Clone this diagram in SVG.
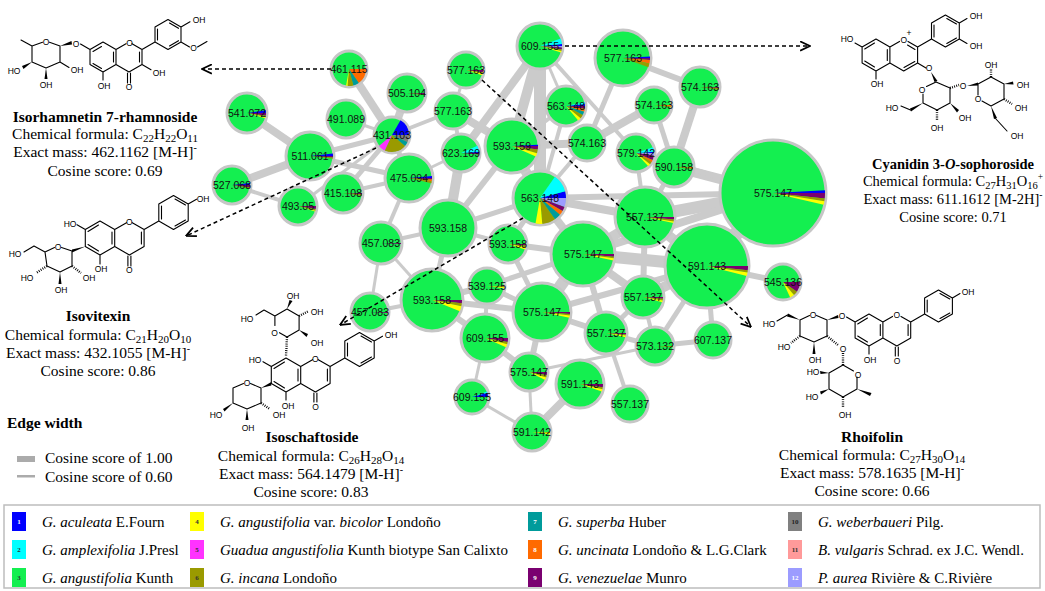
<svg xmlns="http://www.w3.org/2000/svg" xmlns:xlink="http://www.w3.org/1999/xlink" width="1045" height="591" viewBox="0 0 1045 591">
<style>
.e line{stroke:#cbcbcb;stroke-linecap:butt}
.nc{fill:#14ef50;stroke:#c6c6c6;stroke-width:3}
.nl{font-family:"Liberation Sans",Arial,sans-serif;font-size:10.5px;fill:#111;text-anchor:middle}
.c1{fill:#0000ff}.c2{fill:#00ffff}.c3{fill:#14ef50}.c4{fill:#ffff00}.c5{fill:#ff33ff}.c6{fill:#9a9a00}
.c7{fill:#009b9b}.c8{fill:#ff6a00}.c9{fill:#7a0070}.c10{fill:#808080}.c11{fill:#ff9a9a}.c12{fill:#9c9cff}
.bd{stroke:#000;stroke-width:1.1;fill:none;stroke-linecap:round;stroke-linejoin:round}
.hs{stroke:#000;stroke-width:2.4;stroke-dasharray:0.9 1.3;fill:none}
.wd{fill:#000}
.al{font-family:"Liberation Sans",Arial,sans-serif;font-size:8.5px;fill:#000;text-anchor:middle}
.t{font-family:"Liberation Serif","Times New Roman",serif;font-size:15.5px;fill:#000;text-anchor:middle}
.ts{text-anchor:start}
.tsm{font-size:14.5px}
.tb{font-weight:bold}
.lg{font-family:"Liberation Serif","Times New Roman",serif;font-size:15px;fill:#000}
.sn{font-family:"Liberation Serif","Times New Roman",serif;font-size:7px;text-anchor:middle;font-weight:bold}
.da{stroke:#000;stroke-width:1.5;stroke-dasharray:4 3;fill:none}
</style>
<defs>
<path id="w3" d="M0 0H1A1 1 0 0 1 .9986 .0523Z"/>
<path id="w4" d="M0 0H1A1 1 0 0 1 .9976 .0698Z"/>
<path id="w5" d="M0 0H1A1 1 0 0 1 .9962 .0872Z"/>
<path id="w6" d="M0 0H1A1 1 0 0 1 .9945 .1045Z"/>
<path id="w8" d="M0 0H1A1 1 0 0 1 .9903 .1392Z"/>
<path id="w10" d="M0 0H1A1 1 0 0 1 .9848 .1736Z"/>
<path id="w12" d="M0 0H1A1 1 0 0 1 .9781 .2079Z"/>
<path id="w15" d="M0 0H1A1 1 0 0 1 .9659 .2588Z"/>
<path id="w20" d="M0 0H1A1 1 0 0 1 .9397 .3420Z"/>
<path id="w25" d="M0 0H1A1 1 0 0 1 .9063 .4226Z"/>
<path id="w30" d="M0 0H1A1 1 0 0 1 .8660 .5Z"/>
<path id="w35" d="M0 0H1A1 1 0 0 1 .8192 .5736Z"/>
<path id="w40" d="M0 0H1A1 1 0 0 1 .7660 .6428Z"/>
<path id="w55" d="M0 0H1A1 1 0 0 1 .5736 .8192Z"/>
<path id="w60" d="M0 0H1A1 1 0 0 1 .5 .8660Z"/>
<path id="w75" d="M0 0H1A1 1 0 0 1 .2588 .9659Z"/>
<marker id="ah" viewBox="0 0 10 10" refX="9.5" refY="5" markerWidth="11" markerHeight="11" markerUnits="userSpaceOnUse" orient="auto">
<path d="M0.5 0.8L9.5 5L0.5 9.2" fill="none" stroke="#000" stroke-width="1.6"/>
</marker>
</defs>
<rect width="1045" height="591" fill="#fff"/>

<g id="edges" class="e">
<line x1="247" y1="113" x2="310" y2="156" stroke-width="8"/>
<line x1="232" y1="185" x2="310" y2="156" stroke-width="8"/>
<line x1="232" y1="185" x2="298" y2="206" stroke-width="4"/>
<line x1="310" y1="156" x2="392" y2="135" stroke-width="5"/>
<line x1="310" y1="156" x2="409" y2="178" stroke-width="5"/>
<line x1="346" y1="119" x2="392" y2="135" stroke-width="3"/>
<line x1="349" y1="69" x2="392" y2="135" stroke-width="8"/>
<line x1="407" y1="93" x2="392" y2="135" stroke-width="8"/>
<line x1="392" y1="135" x2="343" y2="193" stroke-width="5"/>
<line x1="392" y1="135" x2="409" y2="178" stroke-width="5"/>
<line x1="343" y1="193" x2="409" y2="178" stroke-width="4"/>
<line x1="298" y1="206" x2="392" y2="135" stroke-width="3"/>
<line x1="409" y1="178" x2="381" y2="243" stroke-width="4"/>
<line x1="392" y1="135" x2="453" y2="111" stroke-width="4"/>
<line x1="409" y1="178" x2="461" y2="153" stroke-width="3"/>
<line x1="466" y1="70" x2="453" y2="111" stroke-width="3"/>
<line x1="453" y1="111" x2="512" y2="146" stroke-width="8"/>
<line x1="453" y1="111" x2="461" y2="153" stroke-width="4"/>
<line x1="540" y1="46" x2="512" y2="146" stroke-width="10"/>
<line x1="540" y1="46" x2="540" y2="198" stroke-width="12"/>
<line x1="540" y1="46" x2="566" y2="106" stroke-width="3"/>
<line x1="540" y1="46" x2="636" y2="153" stroke-width="4"/>
<line x1="540" y1="46" x2="461" y2="153" stroke-width="8"/>
<line x1="623" y1="58" x2="700" y2="87" stroke-width="6"/>
<line x1="623" y1="58" x2="587" y2="143" stroke-width="5"/>
<line x1="654" y1="105" x2="587" y2="143" stroke-width="8"/>
<line x1="654" y1="105" x2="674" y2="167" stroke-width="5"/>
<line x1="700" y1="87" x2="674" y2="167" stroke-width="8"/>
<line x1="674" y1="167" x2="773" y2="193" stroke-width="10"/>
<line x1="674" y1="167" x2="645" y2="217" stroke-width="5"/>
<line x1="512" y1="146" x2="587" y2="143" stroke-width="8"/>
<line x1="587" y1="143" x2="540" y2="198" stroke-width="4"/>
<line x1="566" y1="106" x2="512" y2="146" stroke-width="4"/>
<line x1="566" y1="106" x2="540" y2="198" stroke-width="4"/>
<line x1="512" y1="146" x2="540" y2="198" stroke-width="10"/>
<line x1="512" y1="146" x2="448" y2="228" stroke-width="6"/>
<line x1="461" y1="153" x2="448" y2="228" stroke-width="10"/>
<line x1="540" y1="198" x2="645" y2="217" stroke-width="8"/>
<line x1="540" y1="198" x2="773" y2="193" stroke-width="6"/>
<line x1="540" y1="198" x2="583" y2="254" stroke-width="8"/>
<line x1="540" y1="198" x2="508" y2="244" stroke-width="5"/>
<line x1="540" y1="198" x2="448" y2="228" stroke-width="5"/>
<line x1="636" y1="153" x2="645" y2="217" stroke-width="4"/>
<line x1="636" y1="153" x2="773" y2="193" stroke-width="5"/>
<line x1="645" y1="217" x2="773" y2="193" stroke-width="12"/>
<line x1="645" y1="217" x2="707" y2="266" stroke-width="10"/>
<line x1="645" y1="217" x2="583" y2="254" stroke-width="10"/>
<line x1="773" y1="193" x2="707" y2="266" stroke-width="14"/>
<line x1="773" y1="193" x2="583" y2="254" stroke-width="8"/>
<line x1="707" y1="266" x2="783" y2="282" stroke-width="6"/>
<line x1="707" y1="266" x2="583" y2="254" stroke-width="12"/>
<line x1="707" y1="266" x2="643" y2="297" stroke-width="10"/>
<line x1="707" y1="266" x2="713" y2="340" stroke-width="5"/>
<line x1="707" y1="266" x2="655" y2="346" stroke-width="5"/>
<line x1="707" y1="266" x2="542" y2="312" stroke-width="6"/>
<line x1="583" y1="254" x2="542" y2="312" stroke-width="12"/>
<line x1="583" y1="254" x2="508" y2="244" stroke-width="6"/>
<line x1="583" y1="254" x2="643" y2="297" stroke-width="8"/>
<line x1="583" y1="254" x2="487" y2="286" stroke-width="5"/>
<line x1="448" y1="228" x2="381" y2="243" stroke-width="4"/>
<line x1="448" y1="228" x2="508" y2="244" stroke-width="4"/>
<line x1="448" y1="228" x2="432" y2="300" stroke-width="5"/>
<line x1="381" y1="243" x2="370" y2="312" stroke-width="3"/>
<line x1="370" y1="312" x2="432" y2="300" stroke-width="4"/>
<line x1="381" y1="243" x2="432" y2="300" stroke-width="3"/>
<line x1="432" y1="300" x2="487" y2="286" stroke-width="6"/>
<line x1="432" y1="300" x2="542" y2="312" stroke-width="6"/>
<line x1="432" y1="300" x2="485" y2="338" stroke-width="6"/>
<line x1="487" y1="286" x2="485" y2="338" stroke-width="4"/>
<line x1="487" y1="286" x2="542" y2="312" stroke-width="5"/>
<line x1="485" y1="338" x2="529" y2="372" stroke-width="6"/>
<line x1="485" y1="338" x2="472" y2="397" stroke-width="3"/>
<line x1="472" y1="397" x2="532" y2="432" stroke-width="3"/>
<line x1="529" y1="372" x2="532" y2="432" stroke-width="3"/>
<line x1="580" y1="384" x2="532" y2="432" stroke-width="8"/>
<line x1="529" y1="372" x2="655" y2="346" stroke-width="3"/>
<line x1="542" y1="312" x2="529" y2="372" stroke-width="6"/>
<line x1="542" y1="312" x2="606" y2="333" stroke-width="6"/>
<line x1="606" y1="333" x2="655" y2="346" stroke-width="5"/>
<line x1="643" y1="297" x2="655" y2="346" stroke-width="4"/>
<line x1="655" y1="346" x2="713" y2="340" stroke-width="5"/>
<line x1="606" y1="333" x2="630" y2="404" stroke-width="4"/>
<line x1="643" y1="297" x2="606" y2="333" stroke-width="5"/>
<line x1="508" y1="244" x2="542" y2="312" stroke-width="5"/>
<line x1="645" y1="217" x2="643" y2="297" stroke-width="6"/>
<line x1="583" y1="254" x2="606" y2="333" stroke-width="6"/>
</g>

<g id="nodes">
<g id="n1"><circle class="nc" cx="540" cy="46" r="23"/><use href="#w5" class="c1" transform="translate(540 46) rotate(-5) scale(22)"/><use href="#w15" class="c2" transform="translate(540 46) rotate(-20) scale(22)"/><use href="#w4" class="c12" transform="translate(540 46) rotate(0) scale(22)"/><use href="#w5" class="c9" transform="translate(540 46) rotate(4) scale(22)"/><use href="#w4" class="c6" transform="translate(540 46) rotate(9) scale(22)"/><use href="#w4" class="c4" transform="translate(540 46) rotate(13) scale(22)"/><text class="nl" x="540" y="49.8">609.155</text></g>
<g id="n2"><circle class="nc" cx="623" cy="58" r="28"/><use href="#w3" class="c1" transform="translate(623 58) rotate(-3) scale(27)"/><use href="#w4" class="c9" transform="translate(623 58) rotate(0) scale(27)"/><use href="#w8" class="c8" transform="translate(623 58) rotate(4) scale(27)"/><use href="#w8" class="c6" transform="translate(623 58) rotate(12) scale(27)"/><text class="nl" x="623" y="61.8">577.163</text></g>
<g id="n3"><circle class="nc" cx="466" cy="70" r="18"/><use href="#w8" class="c9" transform="translate(466 70) rotate(0) scale(17)"/><use href="#w4" class="c6" transform="translate(466 70) rotate(8) scale(17)"/><use href="#w6" class="c4" transform="translate(466 70) rotate(12) scale(17)"/><text class="nl" x="466" y="73.8">577.163</text></g>
<g id="n4"><circle class="nc" cx="407" cy="93" r="19"/><use href="#w4" class="c9" transform="translate(407 93) rotate(0) scale(18)"/><use href="#w3" class="c6" transform="translate(407 93) rotate(4) scale(18)"/><text class="nl" x="407" y="96.8">505.104</text></g>
<g id="n5"><circle class="nc" cx="453" cy="111" r="18"/><text class="nl" x="453" y="114.8">577.163</text></g>
<g id="n6"><circle class="nc" cx="392" cy="135" r="18"/><use href="#w60" class="c1" transform="translate(392 135) rotate(-60) scale(17)"/><use href="#w25" class="c10" transform="translate(392 135) rotate(0) scale(17)"/><use href="#w15" class="c7" transform="translate(392 135) rotate(25) scale(17)"/><use href="#w75" class="c6" transform="translate(392 135) rotate(40) scale(17)"/><use href="#w25" class="c5" transform="translate(392 135) rotate(115) scale(17)"/><text class="nl" x="392" y="138.8">431.103</text></g>
<g id="n7"><circle class="nc" cx="349" cy="69" r="18"/><use href="#w55" class="c8" transform="translate(349 69) rotate(0) scale(17)"/><use href="#w20" class="c7" transform="translate(349 69) rotate(55) scale(17)"/><use href="#w20" class="c6" transform="translate(349 69) rotate(75) scale(17)"/><use href="#w5" class="c4" transform="translate(349 69) rotate(95) scale(17)"/><text class="nl" x="349" y="72.8">461.115</text></g>
<g id="n8"><circle class="nc" cx="247" cy="113" r="20"/><use href="#w8" class="c1" transform="translate(247 113) rotate(-8) scale(19)"/><use href="#w8" class="c9" transform="translate(247 113) rotate(0) scale(19)"/><use href="#w4" class="c6" transform="translate(247 113) rotate(8) scale(19)"/><use href="#w4" class="c4" transform="translate(247 113) rotate(12) scale(19)"/><text class="nl" x="247" y="116.8">541.072</text></g>
<g id="n9"><circle class="nc" cx="346" cy="119" r="19"/><text class="nl" x="346" y="122.8">491.089</text></g>
<g id="n10"><circle class="nc" cx="310" cy="156" r="24"/><use href="#w6" class="c1" transform="translate(310 156) rotate(-6) scale(23)"/><use href="#w4" class="c9" transform="translate(310 156) rotate(0) scale(23)"/><use href="#w3" class="c6" transform="translate(310 156) rotate(4) scale(23)"/><text class="nl" x="310" y="159.8">511.061</text></g>
<g id="n11"><circle class="nc" cx="232" cy="185" r="19"/><use href="#w6" class="c1" transform="translate(232 185) rotate(-6) scale(18)"/><use href="#w8" class="c9" transform="translate(232 185) rotate(0) scale(18)"/><use href="#w4" class="c6" transform="translate(232 185) rotate(8) scale(18)"/><text class="nl" x="232" y="188.8">527.068</text></g>
<g id="n12"><circle class="nc" cx="298" cy="206" r="19"/><use href="#w10" class="c9" transform="translate(298 206) rotate(0) scale(18)"/><use href="#w5" class="c6" transform="translate(298 206) rotate(10) scale(18)"/><use href="#w3" class="c4" transform="translate(298 206) rotate(15) scale(18)"/><text class="nl" x="298" y="209.8">493.05</text></g>
<g id="n13"><circle class="nc" cx="343" cy="193" r="20"/><use href="#w4" class="c9" transform="translate(343 193) rotate(0) scale(19)"/><use href="#w4" class="c6" transform="translate(343 193) rotate(4) scale(19)"/><text class="nl" x="343" y="196.8">415.108</text></g>
<g id="n14"><circle class="nc" cx="409" cy="178" r="24"/><use href="#w5" class="c1" transform="translate(409 178) rotate(-5) scale(23)"/><use href="#w4" class="c9" transform="translate(409 178) rotate(0) scale(23)"/><use href="#w4" class="c8" transform="translate(409 178) rotate(4) scale(23)"/><use href="#w5" class="c6" transform="translate(409 178) rotate(8) scale(23)"/><text class="nl" x="409" y="181.8">475.094</text></g>
<g id="n15"><circle class="nc" cx="381" cy="243" r="21"/><use href="#w3" class="c9" transform="translate(381 243) rotate(0) scale(20)"/><text class="nl" x="381" y="246.8">457.083</text></g>
<g id="n16"><circle class="nc" cx="370" cy="312" r="19"/><use href="#w3" class="c9" transform="translate(370 312) rotate(0) scale(18)"/><text class="nl" x="370" y="315.8">457.083</text></g>
<g id="n17"><circle class="nc" cx="566" cy="106" r="20"/><use href="#w6" class="c1" transform="translate(566 106) rotate(-6) scale(19)"/><use href="#w6" class="c2" transform="translate(566 106) rotate(-12) scale(19)"/><use href="#w8" class="c9" transform="translate(566 106) rotate(0) scale(19)"/><use href="#w10" class="c8" transform="translate(566 106) rotate(8) scale(19)"/><use href="#w10" class="c7" transform="translate(566 106) rotate(18) scale(19)"/><use href="#w12" class="c6" transform="translate(566 106) rotate(28) scale(19)"/><use href="#w10" class="c4" transform="translate(566 106) rotate(40) scale(19)"/><text class="nl" x="566" y="109.8">563.148</text></g>
<g id="n18"><circle class="nc" cx="700" cy="87" r="20"/><use href="#w3" class="c9" transform="translate(700 87) rotate(0) scale(19)"/><use href="#w5" class="c6" transform="translate(700 87) rotate(3) scale(19)"/><text class="nl" x="700" y="90.8">574.163</text></g>
<g id="n19"><circle class="nc" cx="654" cy="105" r="18"/><use href="#w4" class="c8" transform="translate(654 105) rotate(0) scale(17)"/><use href="#w4" class="c6" transform="translate(654 105) rotate(4) scale(17)"/><text class="nl" x="654" y="108.8">574.163</text></g>
<g id="n20"><circle class="nc" cx="587" cy="143" r="18"/><text class="nl" x="587" y="146.8">574.163</text></g>
<g id="n21"><circle class="nc" cx="512" cy="146" r="27"/><use href="#w3" class="c1" transform="translate(512 146) rotate(-3) scale(26)"/><use href="#w8" class="c9" transform="translate(512 146) rotate(0) scale(26)"/><use href="#w8" class="c6" transform="translate(512 146) rotate(8) scale(26)"/><use href="#w8" class="c4" transform="translate(512 146) rotate(16) scale(26)"/><text class="nl" x="512" y="149.8">593.159</text></g>
<g id="n22"><circle class="nc" cx="461" cy="153" r="19"/><use href="#w4" class="c1" transform="translate(461 153) rotate(-4) scale(18)"/><use href="#w20" class="c2" transform="translate(461 153) rotate(-24) scale(18)"/><use href="#w5" class="c9" transform="translate(461 153) rotate(0) scale(18)"/><text class="nl" x="461" y="156.8">623.169</text></g>
<g id="n23"><circle class="nc" cx="636" cy="153" r="19"/><use href="#w4" class="c1" transform="translate(636 153) rotate(-4) scale(18)"/><use href="#w15" class="c2" transform="translate(636 153) rotate(-19) scale(18)"/><use href="#w8" class="c12" transform="translate(636 153) rotate(0) scale(18)"/><use href="#w15" class="c9" transform="translate(636 153) rotate(8) scale(18)"/><use href="#w8" class="c8" transform="translate(636 153) rotate(23) scale(18)"/><use href="#w8" class="c6" transform="translate(636 153) rotate(31) scale(18)"/><use href="#w8" class="c4" transform="translate(636 153) rotate(39) scale(18)"/><text class="nl" x="636" y="156.8">579.142</text></g>
<g id="n24"><circle class="nc" cx="674" cy="167" r="20"/><use href="#w3" class="c8" transform="translate(674 167) rotate(0) scale(19)"/><use href="#w3" class="c6" transform="translate(674 167) rotate(3) scale(19)"/><text class="nl" x="674" y="170.8">590.158</text></g>
<g id="n26"><circle class="nc" cx="540" cy="198" r="27"/><use href="#w15" class="c1" transform="translate(540 198) rotate(-15) scale(26)"/><use href="#w40" class="c2" transform="translate(540 198) rotate(-55) scale(26)"/><use href="#w20" class="c12" transform="translate(540 198) rotate(0) scale(26)"/><use href="#w10" class="c9" transform="translate(540 198) rotate(20) scale(26)"/><use href="#w10" class="c8" transform="translate(540 198) rotate(30) scale(26)"/><use href="#w15" class="c7" transform="translate(540 198) rotate(40) scale(26)"/><use href="#w30" class="c6" transform="translate(540 198) rotate(55) scale(26)"/><use href="#w15" class="c4" transform="translate(540 198) rotate(85) scale(26)"/><text class="nl" x="540" y="201.8">563.148</text></g>
<g id="n27"><circle class="nc" cx="645" cy="217" r="30"/><use href="#w5" class="c9" transform="translate(645 217) rotate(0) scale(29)"/><use href="#w4" class="c6" transform="translate(645 217) rotate(5) scale(29)"/><use href="#w3" class="c4" transform="translate(645 217) rotate(9) scale(29)"/><text class="nl" x="645" y="220.8">557.137</text></g>
<g id="n28"><circle class="nc" cx="448" cy="228" r="28"/><text class="nl" x="448" y="231.8">593.158</text></g>
<g id="n29"><circle class="nc" cx="773" cy="193" r="53"/><use href="#w3" class="c1" transform="translate(773 193) rotate(-3) scale(52)"/><use href="#w6" class="c9" transform="translate(773 193) rotate(0) scale(52)"/><use href="#w3" class="c6" transform="translate(773 193) rotate(6) scale(52)"/><use href="#w4" class="c4" transform="translate(773 193) rotate(9) scale(52)"/><text class="nl" x="773" y="196.8">575.147</text></g>
<g id="n30"><circle class="nc" cx="707" cy="266" r="42"/><use href="#w6" class="c9" transform="translate(707 266) rotate(0) scale(41)"/><use href="#w3" class="c6" transform="translate(707 266) rotate(6) scale(41)"/><use href="#w5" class="c4" transform="translate(707 266) rotate(9) scale(41)"/><text class="nl" x="707" y="269.8">591.143</text></g>
<g id="n31"><circle class="nc" cx="783" cy="282" r="18"/><use href="#w35" class="c9" transform="translate(783 282) rotate(0) scale(17)"/><use href="#w15" class="c6" transform="translate(783 282) rotate(35) scale(17)"/><use href="#w15" class="c4" transform="translate(783 282) rotate(50) scale(17)"/><text class="nl" x="783" y="285.8">545.136</text></g>
<g id="n32"><circle class="nc" cx="643" cy="297" r="21"/><use href="#w5" class="c9" transform="translate(643 297) rotate(0) scale(20)"/><use href="#w5" class="c6" transform="translate(643 297) rotate(5) scale(20)"/><use href="#w5" class="c4" transform="translate(643 297) rotate(10) scale(20)"/><text class="nl" x="643" y="300.8">557.137</text></g>
<g id="n33"><circle class="nc" cx="583" cy="254" r="32"/><use href="#w5" class="c9" transform="translate(583 254) rotate(0) scale(31)"/><use href="#w3" class="c6" transform="translate(583 254) rotate(5) scale(31)"/><use href="#w4" class="c4" transform="translate(583 254) rotate(8) scale(31)"/><text class="nl" x="583" y="257.8">575.147</text></g>
<g id="n34"><circle class="nc" cx="508" cy="244" r="19"/><use href="#w5" class="c9" transform="translate(508 244) rotate(0) scale(18)"/><use href="#w5" class="c6" transform="translate(508 244) rotate(5) scale(18)"/><use href="#w8" class="c4" transform="translate(508 244) rotate(10) scale(18)"/><text class="nl" x="508" y="247.8">593.158</text></g>
<g id="n35"><circle class="nc" cx="487" cy="286" r="18"/><use href="#w4" class="c6" transform="translate(487 286) rotate(0) scale(17)"/><use href="#w4" class="c4" transform="translate(487 286) rotate(4) scale(17)"/><text class="nl" x="487" y="289.8">539.125</text></g>
<g id="n36"><circle class="nc" cx="432" cy="300" r="31"/><use href="#w6" class="c9" transform="translate(432 300) rotate(0) scale(30)"/><use href="#w6" class="c6" transform="translate(432 300) rotate(6) scale(30)"/><use href="#w10" class="c4" transform="translate(432 300) rotate(12) scale(30)"/><text class="nl" x="432" y="303.8">593.158</text></g>
<g id="n37"><circle class="nc" cx="542" cy="312" r="29"/><use href="#w4" class="c9" transform="translate(542 312) rotate(0) scale(28)"/><use href="#w3" class="c6" transform="translate(542 312) rotate(4) scale(28)"/><use href="#w5" class="c4" transform="translate(542 312) rotate(7) scale(28)"/><text class="nl" x="542" y="315.8">575.147</text></g>
<g id="n38"><circle class="nc" cx="485" cy="338" r="24"/><use href="#w10" class="c9" transform="translate(485 338) rotate(0) scale(23)"/><use href="#w6" class="c6" transform="translate(485 338) rotate(10) scale(23)"/><use href="#w8" class="c4" transform="translate(485 338) rotate(16) scale(23)"/><text class="nl" x="485" y="341.8">609.155</text></g>
<g id="n39"><circle class="nc" cx="606" cy="333" r="21"/><use href="#w4" class="c9" transform="translate(606 333) rotate(0) scale(20)"/><use href="#w3" class="c6" transform="translate(606 333) rotate(4) scale(20)"/><use href="#w5" class="c4" transform="translate(606 333) rotate(7) scale(20)"/><text class="nl" x="606" y="336.8">557.137</text></g>
<g id="n40"><circle class="nc" cx="655" cy="346" r="19"/><use href="#w3" class="c6" transform="translate(655 346) rotate(0) scale(18)"/><text class="nl" x="655" y="349.8">573.132</text></g>
<g id="n41"><circle class="nc" cx="713" cy="340" r="18"/><text class="nl" x="713" y="343.8">607.137</text></g>
<g id="n42"><circle class="nc" cx="529" cy="372" r="19"/><use href="#w10" class="c9" transform="translate(529 372) rotate(0) scale(18)"/><use href="#w8" class="c6" transform="translate(529 372) rotate(10) scale(18)"/><use href="#w8" class="c4" transform="translate(529 372) rotate(18) scale(18)"/><text class="nl" x="529" y="375.8">575.147</text></g>
<g id="n43"><circle class="nc" cx="580" cy="384" r="24"/><use href="#w8" class="c9" transform="translate(580 384) rotate(0) scale(23)"/><use href="#w5" class="c6" transform="translate(580 384) rotate(8) scale(23)"/><use href="#w6" class="c4" transform="translate(580 384) rotate(13) scale(23)"/><text class="nl" x="580" y="387.8">591.143</text></g>
<g id="n44"><circle class="nc" cx="472" cy="397" r="17"/><use href="#w15" class="c1" transform="translate(472 397) rotate(-15) scale(16)"/><use href="#w5" class="c2" transform="translate(472 397) rotate(-20) scale(16)"/><text class="nl" x="472" y="400.8">609.155</text></g>
<g id="n45"><circle class="nc" cx="630" cy="404" r="18"/><text class="nl" x="630" y="407.8">557.137</text></g>
<g id="n46"><circle class="nc" cx="532" cy="432" r="19"/><use href="#w3" class="c6" transform="translate(532 432) rotate(0) scale(18)"/><use href="#w5" class="c4" transform="translate(532 432) rotate(3) scale(18)"/><text class="nl" x="532" y="435.8">591.142</text></g>
</g>

<g id="arrows">
<line class="da" x1="331" y1="69" x2="202" y2="69" marker-end="url(#ah)"/>
<line class="da" x1="565" y1="46" x2="810" y2="46" marker-end="url(#ah)"/>
<line class="da" x1="482" y1="80" x2="751" y2="327" marker-end="url(#ah)"/>
<line class="da" x1="376" y1="148" x2="186" y2="236" marker-end="url(#ah)"/>
<line class="da" x1="523" y1="218" x2="340" y2="325" marker-end="url(#ah)"/>
</g>

<g id="s1">
<path class="bd" d="M103 42L116 49.5L116 64.5L103 72L90 64.5L90 49.5Z M93 51.5L101.5 46.5 M113.5 52L113.5 62 M101.5 68.5L93 63.5 M116 49.5L126 43.7 M132 43.7L142 49.5L142 64.5L129 72L116 64.5 M139.5 52L139.5 62 M127.5 73L127.5 83 M130.5 73L130.5 83 M142 64.5L151 69.7 M103 72L103 80 M142 49.5L155 42 M168 19.5L181 27L181 42L168 49.5L155 42L155 27Z M157.5 29L157.5 40 M169.5 23L178.5 28.3 M178.5 40.7L169.5 46 M181 27L190 21.8 M181 42L189.5 47 M197.5 47L207 41.5 M90 49.5L80.5 44 M32 46L42.5 42.2 M49.5 42.2L60 46L60 62L46 68L32 62L32 46 M32 46L21 40 M60 62L69 67.5"/>
<polygon class="wd" points="60,46 71.5,41 72,44.5"/>
<polygon class="wd" points="32,62 22,66 23.5,69"/>
<polygon class="wd" points="46,68 44.5,79 47.5,79"/>
<text class="al" x="46" y="44.5">O</text><text class="al" x="76" y="47">O</text><text class="al" x="129.5" y="46">O</text>
<text class="al" x="104" y="89">OH</text><text class="al" x="129" y="90">O</text><text class="al" x="159" y="76">OH</text>
<text class="al" x="199" y="23">OH</text><text class="al" x="193.5" y="51">O</text>
<text class="al" x="14" y="74">HO</text><text class="al" x="46" y="88">OH</text><text class="al" x="77" y="73">OH</text>
</g>
<g id="t1">
<text class="t tb" x="105" y="122">Isorhamnetin 7-rhamnoside</text>
<text class="t" x="105" y="139">Chemical formula: C<tspan font-size="11" dy="3">22</tspan><tspan dy="-3">H</tspan><tspan font-size="11" dy="3">22</tspan><tspan dy="-3">O</tspan><tspan font-size="11" dy="3">11</tspan></text>
<text class="t" x="105" y="157">Exact mass: 462.1162 [M-H]<tspan font-size="10" dy="-6">-</tspan></text>
<text class="t" x="105" y="176">Cosine score: 0.69</text>
</g>

<g id="s2">
<path class="bd" d="M100 221L114.7 229.5L114.7 246.5L100 255L85.3 246.5L85.3 229.5Z M88 231.5L98.5 225 M112 232L112 244 M98.5 251L88 244.5 M114.7 229.5L126.5 222.7 M132.3 222.7L144.1 229.5L144.1 246.5L129.4 255L114.7 246.5 M141.4 232L141.4 244 M127.9 256L127.9 266 M130.9 256L130.9 266 M100 255L100 264 M85.3 229.5L77 224.7 M144.1 229.5L158.8 221 M173.5 195.5L188.2 204L188.2 221L173.5 229.5L158.8 221L158.8 204Z M161.5 206L161.5 219 M175 199L185.5 205 M185.5 220L175 226 M188.2 204L196.5 199.2 M45 252L54.5 247.5 M61.5 247.5L72 251L72 266L60 272L47 266L45 252 M45 252L34 246L24 252"/>
<polygon class="wd" points="85.3,246.5 72,249.5 72,252.5"/>
<polygon class="wd" points="60,272 58.5,284 61.5,284"/>
<path class="hs" d="M47 266L36 273 M72 266L81 273"/>
<text class="al" x="70" y="227">HO</text><text class="al" x="129.4" y="224.5">O</text><text class="al" x="203" y="202">OH</text>
<text class="al" x="101" y="272">OH</text><text class="al" x="129.4" y="273">O</text>
<text class="al" x="58" y="249.5">O</text><text class="al" x="15" y="257">HO</text><text class="al" x="27" y="281">HO</text>
<text class="al" x="61" y="293">OH</text><text class="al" x="89" y="281">OH</text>
</g>
<g id="t2">
<text class="t tb" x="98" y="321">Isovitexin</text>
<text class="t" x="98" y="340">Chemical formula: C<tspan font-size="11" dy="3">21</tspan><tspan dy="-3">H</tspan><tspan font-size="11" dy="3">20</tspan><tspan dy="-3">O</tspan><tspan font-size="11" dy="3">10</tspan></text>
<text class="t" x="98" y="358">Exact mass: 432.1055 [M-H]<tspan font-size="10" dy="-6">-</tspan></text>
<text class="t" x="98" y="376">Cosine score: 0.86</text>
</g>

<g id="s3">
<path class="bd" d="M274.9 325.5L274.9 316L287 309L299.1 316L299.1 330L287 337L279.5 332.7 M274.9 316L264 310L256 315 M286 358L300.7 366.5L300.7 383.5L286 392L271.3 383.5L271.3 366.5Z M274 368.5L284.5 362 M298 369L298 381 M284.5 388L274 381.5 M300.7 366.5L312.5 359.7 M318.3 359.7L330.1 366.5L330.1 383.5L315.4 392L300.7 383.5 M327.4 369L327.4 381 M313.9 393L313.9 402 M316.9 393L316.9 402 M286 392L286 400 M271.3 366.5L263 361.7 M330.1 366.5L344.8 358 M359.5 332.5L374.2 341L374.2 358L359.5 366.5L344.8 358L344.8 341Z M347.5 343L347.5 356 M361 336L371.5 342 M371.5 357L361 363 M374.2 341L382.5 336.2 M233 388L243.5 383.5 M250.5 383.5L261 388L261 403L247 409L233 403L233 388"/>
<polygon class="wd" points="287,309 289.5,300 292.5,301"/>
<polygon class="wd" points="299.1,330 308,334 306.5,337"/>
<polygon class="wd" points="261,388 271.3,382 271.3,385.5"/>
<polygon class="wd" points="233,403 223,409 224.5,411.5"/>
<polygon class="wd" points="247,409 245.5,420 248.5,420"/>
<path class="hs" d="M299.1 316L308 311.5 M287 337L286 356 M261 403L270 409"/>
<text class="al" x="293" y="299">OH</text><text class="al" x="317" y="315">OH</text><text class="al" x="317" y="346">OH</text>
<text class="al" x="247" y="322">HO</text><text class="al" x="274.5" y="336">O</text>
<text class="al" x="255" y="363">HO</text><text class="al" x="315.4" y="361.5">O</text><text class="al" x="391" y="338">OH</text>
<text class="al" x="288" y="409">OH</text><text class="al" x="315.5" y="410">O</text>
<text class="al" x="247" y="386">O</text><text class="al" x="216" y="418">HO</text><text class="al" x="248" y="431">OH</text><text class="al" x="279" y="418">OH</text>
</g>
<g id="t3">
<text class="t tb" x="312" y="442">Isoschaftoside</text>
<text class="t" x="311" y="461">Chemical formula: C<tspan font-size="11" dy="3">26</tspan><tspan dy="-3">H</tspan><tspan font-size="11" dy="3">28</tspan><tspan dy="-3">O</tspan><tspan font-size="11" dy="3">14</tspan></text>
<text class="t" x="311" y="479">Exact mass: 564.1479 [M-H]<tspan font-size="10" dy="-6">-</tspan></text>
<text class="t" x="311" y="497">Cosine score: 0.83</text>
</g>

<g id="s4">
<path class="bd" d="M876 39L889.9 47L889.9 63L876 71L862.1 63L862.1 47Z M864.7 49L874.5 43 M887.3 49.5L887.3 60.5 M874.5 67L864.7 61 M889.9 47L899.5 41.4 M908 41.4L917.6 47L917.6 63L903.7 71L889.9 63 M907.5 45L915 49.5 M904 67.5L914.8 61.5 M862.1 47L855 43 M876 71L876 79 M917.6 47L931.5 39 M945.4 15L959.3 23L959.3 39L945.4 47L931.5 39L931.5 23Z M934 25L934 37 M946.8 18.5L956.5 24 M956.5 38L946.8 43.5 M959.3 23L967 18.5 M959.3 39L967 43.5 M917.6 63L926 68 M926.5 86.5L936 82L950 88L950 103L937 110L923 103L923 94 M910.5 110L901 106 M978 95L978 84L991 77L1004 84L1004 99L991 106L982 101 M995.5 118.5L1007 131"/>
<polygon class="wd" points="931,72 934.5,82 937.5,81"/>
<polygon class="wd" points="950,103 959,110 957,112.5"/>
<polygon class="wd" points="923,103 910,108.5 911,111.5"/>
<polygon class="wd" points="967,86 978,82.5 978,85.5"/>
<polygon class="wd" points="1004,84 1013,81.5 1013.5,84.5"/>
<polygon class="wd" points="991,106 994,119 997,118"/>
<path class="hs" d="M950 88L959 85 M937 110L937 121 M991 77L991 69 M1004 99L1012 104"/>
<text class="al" x="847" y="42">HO</text><text class="al" x="903.7" y="42.5">O</text><text class="al" x="909" y="36" font-size="6">+</text>
<text class="al" x="976" y="19">OH</text><text class="al" x="976" y="49">OH</text><text class="al" x="877" y="87">OH</text>
<text class="al" x="929" y="71">O</text><text class="al" x="922" y="93">O</text><text class="al" x="963" y="89">O</text>
<text class="al" x="892" y="111">HO</text><text class="al" x="965" y="121">OH</text><text class="al" x="937" y="131">OH</text>
<text class="al" x="991" y="68">OH</text><text class="al" x="1023" y="88">OH</text><text class="al" x="978" y="102">O</text>
<text class="al" x="1021" y="111">OH</text><text class="al" x="1017" y="139">OH</text>
</g>
<g id="t4">
<text class="t tb tsm" x="953" y="169">Cyanidin 3-<tspan font-style="italic">O</tspan>-sophoroside</text>
<text class="t tsm" x="953" y="186">Chemical formula: C<tspan font-size="10.5" dy="3">27</tspan><tspan dy="-3">H</tspan><tspan font-size="10.5" dy="3">31</tspan><tspan dy="-3">O</tspan><tspan font-size="10.5" dy="3">16</tspan><tspan font-size="9.5" dy="-9">+</tspan></text>
<text class="t tsm" x="953" y="204">Exact mass: 611.1612 [M-2H]<tspan font-size="9.5" dy="-6">-</tspan></text>
<text class="t tsm" x="953" y="222">Cosine score: 0.71</text>
</g>

<g id="s5">
<path class="bd" d="M869 314L882.9 322L882.9 338L869 346L855.1 338L855.1 322Z M857.7 324L867.5 318 M880.3 324.5L880.3 335.5 M867.5 342L857.7 336 M882.9 322L892.5 316.4 M901 316.4L910.7 322L910.7 338L896.8 346L882.9 338 M908.1 324.5L908.1 335.5 M895.3 347L895.3 356 M898.3 347L898.3 356 M869 346L869 354 M910.7 322L924.6 314 M938.5 290L952.4 298L952.4 314L938.5 322L924.6 314L924.6 298Z M927.2 300L927.2 312 M940 293.5L949.8 299 M949.8 313L940 318.5 M952.4 298L960 293.6 M855.1 322L846.5 317 M800 320L809.5 315.5 M816.5 315.5L827 320L827 336L814 342L800 336L800 320 M787.5 315L777 321 M843 365L853.5 371 M857 377L857 389L843 397L829 389L829 373L843 365"/>
<polygon class="wd" points="827,320 838,315 838.5,318"/>
<polygon class="wd" points="800,320 788,313.5 787,316.5"/>
<polygon class="wd" points="814,342 812.5,354 815.5,354"/>
<polygon class="wd" points="829,373 820,371 820.5,374"/>
<polygon class="wd" points="829,389 820,391.5 821,394.5"/>
<polygon class="wd" points="857,389 870,396 871.5,393"/>
<path class="hs" d="M800 336L791 343 M827 336L838 345 M843 353L843 365 M843 397L843 408"/>
<text class="al" x="896.8" y="318">O</text><text class="al" x="897" y="364">O</text><text class="al" x="870" y="363">OH</text>
<text class="al" x="968" y="295">OH</text><text class="al" x="842" y="319">O</text><text class="al" x="813" y="318">O</text>
<text class="al" x="769" y="327">HO</text><text class="al" x="784" y="350">HO</text><text class="al" x="815" y="363">OH</text>
<text class="al" x="843" y="352">O</text><text class="al" x="858" y="378">O</text><text class="al" x="813" y="375">HO</text>
<text class="al" x="812" y="400">HO</text><text class="al" x="845" y="418">OH</text>
</g>
<g id="t5">
<text class="t tb" x="872" y="442">Rhoifolin</text>
<text class="t" x="872" y="460">Chemical formula: C<tspan font-size="11" dy="3">27</tspan><tspan dy="-3">H</tspan><tspan font-size="11" dy="3">30</tspan><tspan dy="-3">O</tspan><tspan font-size="11" dy="3">14</tspan></text>
<text class="t" x="872" y="478">Exact mass: 578.1635 [M-H]<tspan font-size="10" dy="-6">-</tspan></text>
<text class="t" x="872" y="496">Cosine score: 0.66</text>
</g>

<g id="edge-legend">
<text class="t tb ts" x="7" y="428">Edge width</text>
<rect x="17" y="456" width="18" height="6" fill="#ababab"/>
<text class="t ts" x="45" y="463">Cosine score of 1.00</text>
<rect x="17" y="475" width="18" height="2.5" fill="#ababab"/>
<text class="t ts" x="45" y="482">Cosine score of 0.60</text>
</g>

<g id="legend">
<rect x="4" y="505" width="1036" height="83" fill="#fff" stroke="#bdbdbd" stroke-width="1.5"/>
<rect x="12" y="512" width="14" height="19" class="c1"/><text class="sn" x="19" y="524" fill="#fff">1</text>
<rect x="12" y="540" width="14" height="19" class="c2"/><text class="sn" x="19" y="552" fill="#333">2</text>
<rect x="12" y="568" width="14" height="19" class="c3"/><text class="sn" x="19" y="580" fill="#333">3</text>
<rect x="190" y="512" width="14" height="19" class="c4"/><text class="sn" x="197" y="524" fill="#333">4</text>
<rect x="190" y="540" width="14" height="19" class="c5"/><text class="sn" x="197" y="552" fill="#333">5</text>
<rect x="190" y="568" width="14" height="19" class="c6"/><text class="sn" x="197" y="580" fill="#333">6</text>
<rect x="528" y="512" width="14" height="19" class="c7"/><text class="sn" x="535" y="524" fill="#fff">7</text>
<rect x="528" y="540" width="14" height="19" class="c8"/><text class="sn" x="535" y="552" fill="#fff">8</text>
<rect x="528" y="568" width="14" height="19" class="c9"/><text class="sn" x="535" y="580" fill="#fff">9</text>
<rect x="788" y="512" width="14" height="19" class="c10"/><text class="sn" x="795" y="524" fill="#222">10</text>
<rect x="788" y="540" width="14" height="19" class="c11"/><text class="sn" x="795" y="552" fill="#333">11</text>
<rect x="788" y="568" width="14" height="19" class="c12"/><text class="sn" x="795" y="580" fill="#fff">12</text>
<text class="lg" x="42" y="527"><tspan font-style="italic">G. aculeata</tspan> E.Fourn</text>
<text class="lg" x="42" y="555"><tspan font-style="italic">G. amplexifolia</tspan> J.Presl</text>
<text class="lg" x="42" y="583"><tspan font-style="italic">G. angustifolia</tspan> Kunth</text>
<text class="lg" x="220" y="527"><tspan font-style="italic">G. angustifolia</tspan> var. <tspan font-style="italic">bicolor</tspan> Londoño</text>
<text class="lg" x="220" y="555"><tspan font-style="italic">Guadua angustifolia</tspan> Kunth biotype San Calixto</text>
<text class="lg" x="220" y="583"><tspan font-style="italic">G. incana</tspan> Londoño</text>
<text class="lg" x="558" y="527"><tspan font-style="italic">G. superba</tspan> Huber</text>
<text class="lg" x="558" y="555"><tspan font-style="italic">G. uncinata</tspan> Londoño &amp; L.G.Clark</text>
<text class="lg" x="558" y="583"><tspan font-style="italic">G. venezuelae</tspan> Munro</text>
<text class="lg" x="818" y="527"><tspan font-style="italic">G. weberbaueri</tspan> Pilg.</text>
<text class="lg" x="818" y="555"><tspan font-style="italic">B. vulgaris</tspan> Schrad. ex J.C. Wendl.</text>
<text class="lg" x="818" y="583"><tspan font-style="italic">P. aurea</tspan> Rivière &amp; C.Rivière</text>
</g>
</svg>
